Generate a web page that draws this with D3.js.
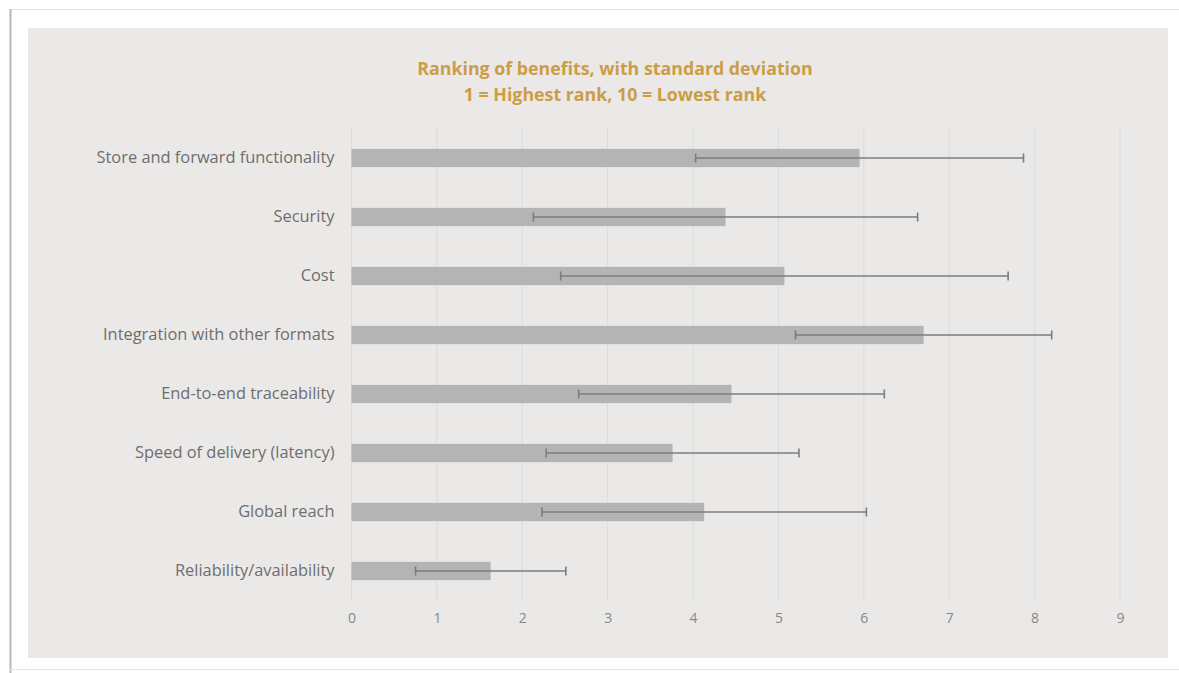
<!DOCTYPE html>
<html><head><meta charset="utf-8">
<script src="https://cdn.jsdelivr.net/npm/d3@7"></script>
<style>body{margin:0;background:#fff;}svg{display:block;}</style>
</head><body>
<script>
const categories = ["Store and forward functionality","Security","Cost","Integration with other formats","End-to-end traceability","Speed of delivery (latency)","Global reach","Reliability/availability"];
const means = [5.95, 4.38, 5.07, 6.70, 4.45, 3.76, 4.13, 1.63];
const stdDevs = [1.92, 2.25, 2.62, 1.50, 1.79, 1.48, 1.90, 0.88];
const xTicks = [0,1,2,3,4,5,6,7,8,9];
const titleLines = ["Ranking of benefits, with standard deviation","1 = Highest rank, 10 = Lowest rank"];

const W = 1179, H = 673;
const svg = d3.select("body").append("svg").attr("width", W).attr("height", H);
const font = "'Open Sans', Lato, sans-serif";

// outer frame
svg.append("rect").attr("x",0).attr("y",0).attr("width",W).attr("height",H).attr("fill","#fff");
svg.append("line").attr("x1",10).attr("x2",W).attr("y1",9.5).attr("y2",9.5).attr("stroke","#e4e4e4").attr("stroke-width",1);
svg.append("line").attr("x1",10.5).attr("x2",10.5).attr("y1",9).attr("y2",H).attr("stroke","#b8b8b8").attr("stroke-width",2);
svg.append("line").attr("x1",10).attr("x2",W).attr("y1",669.5).attr("y2",669.5).attr("stroke","#e4e4e4").attr("stroke-width",1);
// panel
svg.append("rect").attr("x",28).attr("y",28).attr("width",1140).attr("height",630).attr("fill","#eae9e8");

const x = d3.scaleLinear().domain([0,9]).range([351.5,1120]);
const y = d3.scaleBand().domain(categories).range([128.5,600.5]).paddingInner(0.69).paddingOuter(0.345);

// gridlines
svg.append("g").selectAll("line").data(xTicks).join("line")
  .attr("x1",d=>x(d)).attr("x2",d=>x(d)).attr("y1",128).attr("y2",600)
  .attr("stroke","#dcdbdb").attr("stroke-width",1);

// title
svg.append("g").selectAll("text").data(titleLines).join("text")
  .attr("x",615).attr("y",(d,i)=>75+i*26).attr("text-anchor","middle")
  .attr("font-family",font).attr("font-weight","bold").attr("font-size",17.8)
  .attr("fill","#cc9d45").text(d=>d);

// x axis
const xAxis = d3.axisBottom(x).tickValues(xTicks).tickSize(0).tickPadding(0).tickFormat(d3.format("d"));
const gx = svg.append("g").attr("transform","translate(0,613)").call(xAxis);
gx.select(".domain").remove();
gx.selectAll("text").attr("font-family",font).attr("font-size",14).attr("fill","#888")
  .attr("dy","0.71em");

// y axis
const yAxis = d3.axisLeft(y).tickSize(0).tickPadding(17);
const gy = svg.append("g").attr("transform",`translate(${x(0)},0)`).call(yAxis);
gy.select(".domain").remove();
gy.selectAll("text").attr("font-family",font).attr("font-size",16.4).attr("fill","#6e6e6e");

// bars
svg.append("g").selectAll("rect").data(categories).join("rect")
  .attr("x",x(0)).attr("y",d=>y(d)).attr("height",y.bandwidth())
  .attr("width",(d,i)=>x(means[i])-x(0)).attr("fill","#b4b4b4");

// error bars
const eg = svg.append("g").attr("stroke","#7c7b83").attr("stroke-width",1.6);
categories.forEach((c,i)=>{
  const cy = y(c)+y.bandwidth()/2;
  const lo = x(means[i]-stdDevs[i]), hi = x(means[i]+stdDevs[i]);
  eg.append("line").attr("x1",lo).attr("x2",hi).attr("y1",cy).attr("y2",cy);
  eg.append("line").attr("x1",lo).attr("x2",lo).attr("y1",cy-4.5).attr("y2",cy+4.5);
  eg.append("line").attr("x1",hi).attr("x2",hi).attr("y1",cy-4.5).attr("y2",cy+4.5);
});
</script>
</body></html>
